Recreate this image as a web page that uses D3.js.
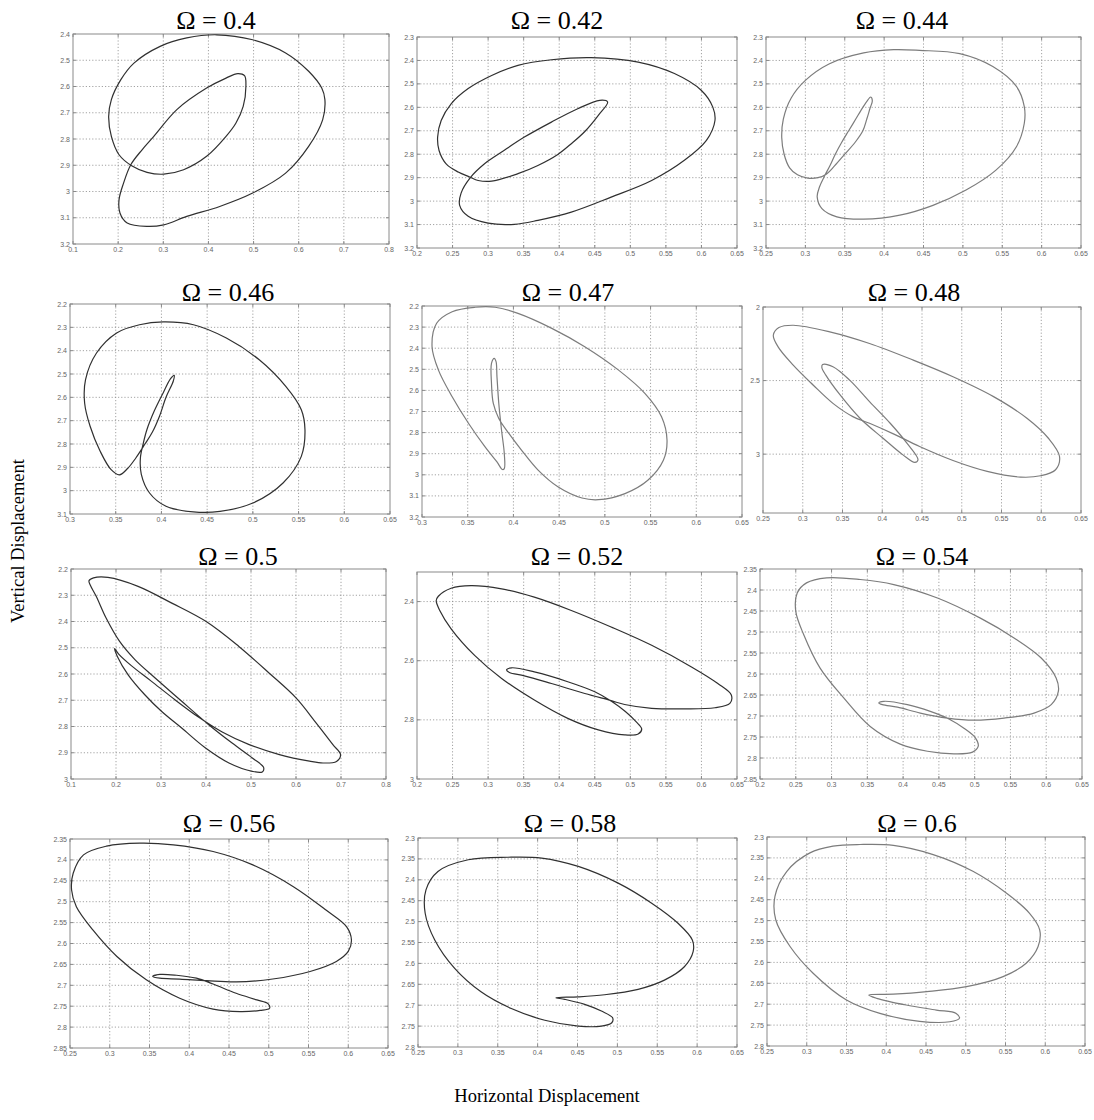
<!DOCTYPE html>
<html><head><meta charset="utf-8">
<script src="https://cdn.jsdelivr.net/npm/d3@7"></script>
<style>body{margin:0;background:#fff}</style>
</head><body>
<svg id="c" width="1094" height="1120"></svg>
<script>
// ---------- data ----------
const titles = ["Ω = 0.4","Ω = 0.42","Ω = 0.44","Ω = 0.46","Ω = 0.47","Ω = 0.48",
                "Ω = 0.5","Ω = 0.52","Ω = 0.54","Ω = 0.56","Ω = 0.58","Ω = 0.6"];
const xLabel = "Horizontal Displacement";
const yLabel = "Vertical Displacement";

const xDomains = [[0.1,0.8],[0.2,0.65],[0.25,0.65],[0.3,0.65],[0.3,0.65],[0.25,0.65],
                  [0.1,0.8],[0.2,0.65],[0.2,0.65],[0.25,0.65],[0.25,0.65],[0.25,0.65]];
const yDomains = [[2.4,3.2],[2.3,3.2],[2.3,3.2],[2.2,3.1],[2.2,3.2],[2.0,3.4],
                  [2.2,3.0],[2.3,3.0],[2.35,2.85],[2.35,2.85],[2.3,2.8],[2.3,2.8]];

const xTicksA = [0.1,0.2,0.3,0.4,0.5,0.6,0.7,0.8];
const xTicksB = [0.2,0.25,0.3,0.35,0.4,0.45,0.5,0.55,0.6,0.65];
const xTicksC = [0.25,0.3,0.35,0.4,0.45,0.5,0.55,0.6,0.65];
const xTicksD = [0.3,0.35,0.4,0.45,0.5,0.55,0.6,0.65];
const yTicks1 = [2.4,2.5,2.6,2.7,2.8,2.9,3,3.1,3.2];
const yTicks2 = [2.3,2.4,2.5,2.6,2.7,2.8,2.9,3,3.1,3.2];
const yTicks4 = [2.2,2.3,2.4,2.5,2.6,2.7,2.8,2.9,3,3.1];
const yTicks5 = [2.2,2.3,2.4,2.5,2.6,2.7,2.8,2.9,3,3.1,3.2];
const yTicks6 = [2,2.5,3];
const yTicks7 = [2.2,2.3,2.4,2.5,2.6,2.7,2.8,2.9,3];
const yTicks8 = [2.4,2.6,2.8,3];
const yTicks9 = [2.35,2.4,2.45,2.5,2.55,2.6,2.65,2.7,2.75,2.8,2.85];
const yTicks11 = [2.3,2.35,2.4,2.45,2.5,2.55,2.6,2.65,2.7,2.75,2.8];

const orbit040 = [[0.418,2.403],[0.498,2.422],[0.571,2.472],[0.622,2.542],[0.651,2.606],[0.658,2.650],[0.653,2.727],[0.622,2.828],[0.571,2.930],[0.498,3.006],[0.425,3.057],[0.352,3.095],[0.301,3.127],[0.264,3.133],[0.220,3.120],[0.204,3.082],[0.202,3.031],[0.212,2.968],[0.228,2.898],[0.253,2.841],[0.279,2.790],[0.330,2.688],[0.396,2.606],[0.439,2.568],[0.465,2.551],[0.480,2.559],[0.483,2.600],[0.477,2.676],[0.461,2.739],[0.439,2.790],[0.396,2.866],[0.345,2.917],[0.301,2.934],[0.264,2.927],[0.230,2.902],[0.202,2.860],[0.185,2.790],[0.179,2.714],[0.185,2.650],[0.206,2.574],[0.235,2.511],[0.293,2.447],[0.352,2.415]];

const orbit042 = [[0.445,2.388],[0.511,2.407],[0.562,2.456],[0.600,2.528],[0.616,2.599],[0.619,2.656],[0.607,2.741],[0.576,2.826],[0.530,2.912],[0.473,2.983],[0.417,3.047],[0.370,3.082],[0.337,3.099],[0.300,3.094],[0.272,3.065],[0.260,3.018],[0.262,2.966],[0.275,2.900],[0.295,2.841],[0.319,2.791],[0.351,2.727],[0.389,2.663],[0.426,2.606],[0.457,2.570],[0.468,2.577],[0.455,2.634],[0.436,2.703],[0.417,2.755],[0.398,2.801],[0.370,2.848],[0.342,2.883],[0.305,2.915],[0.286,2.912],[0.274,2.897],[0.258,2.876],[0.241,2.841],[0.231,2.784],[0.229,2.727],[0.234,2.656],[0.248,2.585],[0.272,2.520],[0.305,2.464],[0.342,2.421],[0.389,2.397]];

const orbit044 = [[0.445,2.357],[0.496,2.371],[0.538,2.426],[0.568,2.511],[0.578,2.597],[0.578,2.668],[0.568,2.768],[0.542,2.868],[0.504,2.953],[0.462,3.018],[0.420,3.060],[0.374,3.077],[0.340,3.067],[0.321,3.032],[0.315,2.982],[0.318,2.939],[0.324,2.895],[0.331,2.850],[0.338,2.800],[0.346,2.750],[0.355,2.700],[0.364,2.650],[0.373,2.600],[0.379,2.570],[0.383,2.556],[0.385,2.572],[0.382,2.605],[0.378,2.650],[0.373,2.700],[0.363,2.750],[0.350,2.800],[0.337,2.850],[0.327,2.884],[0.316,2.900],[0.303,2.902],[0.290,2.888],[0.280,2.858],[0.273,2.800],[0.270,2.730],[0.272,2.650],[0.282,2.560],[0.300,2.485],[0.330,2.415],[0.374,2.368],[0.412,2.354]];

const orbit046 = [[0.414,2.506],[0.413,2.530],[0.405,2.600],[0.398,2.680],[0.390,2.750],[0.382,2.800],[0.372,2.860],[0.363,2.905],[0.354,2.932],[0.345,2.910],[0.333,2.831],[0.322,2.724],[0.316,2.624],[0.317,2.524],[0.329,2.410],[0.351,2.324],[0.376,2.289],[0.402,2.277],[0.435,2.289],[0.471,2.346],[0.507,2.439],[0.536,2.553],[0.553,2.653],[0.557,2.739],[0.553,2.853],[0.533,2.967],[0.500,3.053],[0.464,3.089],[0.435,3.091],[0.405,3.067],[0.387,3.010],[0.378,2.930],[0.377,2.860],[0.380,2.800],[0.384,2.740],[0.392,2.660],[0.402,2.580],[0.410,2.520]];

const orbit047 = [[0.358,2.206],[0.333,2.227],[0.316,2.282],[0.311,2.393],[0.318,2.504],[0.333,2.630],[0.351,2.757],[0.369,2.868],[0.382,2.939],[0.388,2.975],[0.390,2.971],[0.390,2.899],[0.387,2.789],[0.384,2.662],[0.382,2.535],[0.381,2.464],[0.379,2.448],[0.376,2.472],[0.376,2.567],[0.378,2.662],[0.384,2.733],[0.395,2.804],[0.409,2.884],[0.427,2.978],[0.449,3.058],[0.475,3.110],[0.493,3.118],[0.522,3.089],[0.547,3.026],[0.564,2.931],[0.568,2.836],[0.562,2.725],[0.544,2.615],[0.515,2.504],[0.478,2.393],[0.442,2.306],[0.405,2.235],[0.380,2.206]];

const orbit048Outer = [[0.288,2.124],[0.334,2.169],[0.384,2.248],[0.439,2.361],[0.489,2.474],[0.540,2.609],[0.582,2.756],[0.609,2.892],[0.623,3.016],[0.618,3.106],[0.599,3.147],[0.574,3.156],[0.532,3.117],[0.489,3.043],[0.447,2.948],[0.414,2.862],[0.384,2.790],[0.363,2.745],[0.338,2.655],[0.313,2.530],[0.288,2.395],[0.269,2.271],[0.263,2.192],[0.270,2.140]];
const orbit048Inner = [[0.325,2.391],[0.338,2.406],[0.359,2.497],[0.384,2.643],[0.410,2.790],[0.431,2.925],[0.445,3.038],[0.441,3.056],[0.426,3.005],[0.401,2.892],[0.372,2.756],[0.347,2.598],[0.329,2.463],[0.324,2.411]];

const orbit050 = [[0.150,2.234],[0.182,2.232],[0.249,2.266],[0.324,2.330],[0.402,2.402],[0.473,2.495],[0.540,2.596],[0.600,2.691],[0.645,2.787],[0.682,2.869],[0.699,2.907],[0.690,2.933],[0.660,2.939],
  [0.630,2.932],[0.563,2.907],[0.496,2.869],[0.436,2.821],[0.384,2.765],[0.331,2.698],[0.279,2.628],[0.234,2.568],[0.206,2.524],[0.197,2.503],
  [0.203,2.533],[0.227,2.603],[0.264,2.679],[0.301,2.742],[0.346,2.806],[0.399,2.882],[0.451,2.939],[0.503,2.971],[0.525,2.973],[0.528,2.956],
  [0.503,2.920],[0.458,2.863],[0.406,2.793],[0.346,2.704],[0.287,2.615],[0.242,2.545],[0.208,2.476],[0.178,2.387],[0.156,2.304],[0.143,2.262],[0.140,2.245]];

const orbit052 = [[0.230,2.382],[0.248,2.355],[0.276,2.346],[0.319,2.357],[0.365,2.385],[0.417,2.430],[0.473,2.486],[0.530,2.548],[0.586,2.621],[0.623,2.677],[0.642,2.716],[0.640,2.744],[0.619,2.759],
  [0.576,2.763],[0.530,2.761],[0.492,2.748],[0.473,2.735],[0.436,2.711],[0.389,2.677],[0.351,2.651],[0.330,2.640],[0.326,2.631],
  [0.333,2.624],[0.365,2.638],[0.412,2.671],[0.450,2.705],[0.474,2.738],[0.493,2.772],[0.508,2.806],[0.516,2.831],[0.511,2.848],
  [0.492,2.851],[0.455,2.834],[0.412,2.795],[0.365,2.733],[0.319,2.660],[0.281,2.582],[0.248,2.492],[0.232,2.430],[0.227,2.397]];

const orbit054 = [[0.252,2.407],[0.265,2.383],[0.293,2.371],[0.340,2.375],[0.387,2.387],[0.448,2.419],[0.508,2.467],[0.555,2.514],[0.593,2.562],[0.614,2.610],[0.617,2.641],[0.607,2.673],[0.583,2.693],
  [0.541,2.705],[0.499,2.710],[0.462,2.705],[0.424,2.693],[0.392,2.679],[0.371,2.673],[0.366,2.669],
  [0.373,2.665],[0.406,2.673],[0.438,2.689],[0.464,2.707],[0.485,2.729],[0.501,2.752],[0.505,2.772],[0.497,2.786],
  [0.471,2.790],[0.434,2.784],[0.396,2.767],[0.354,2.725],[0.317,2.657],[0.284,2.586],[0.261,2.506],[0.250,2.451]];

const orbit056 = [[0.254,2.432],[0.267,2.388],[0.296,2.367],[0.338,2.360],[0.380,2.364],[0.430,2.380],[0.480,2.412],[0.531,2.464],[0.572,2.520],[0.598,2.560],[0.604,2.591],[0.600,2.619],[0.585,2.643],
  [0.552,2.667],[0.505,2.685],[0.459,2.692],[0.422,2.689],[0.388,2.685],[0.363,2.683],[0.354,2.679],
  [0.363,2.674],[0.384,2.676],[0.409,2.683],[0.430,2.697],[0.459,2.719],[0.485,2.735],[0.499,2.744],[0.501,2.755],
  [0.489,2.760],[0.464,2.763],[0.430,2.757],[0.388,2.731],[0.346,2.687],[0.309,2.631],[0.279,2.568],[0.258,2.512],[0.252,2.472]];

const orbit058 = [[0.363,2.346],[0.405,2.348],[0.451,2.368],[0.501,2.408],[0.543,2.456],[0.576,2.504],[0.594,2.544],[0.595,2.572],[0.584,2.608],[0.559,2.640],[0.526,2.662],[0.484,2.675],[0.451,2.680],[0.423,2.682],
  [0.434,2.686],[0.459,2.698],[0.480,2.714],[0.494,2.730],[0.493,2.742],[0.480,2.750],[0.451,2.750],[0.409,2.736],[0.367,2.708],[0.329,2.668],[0.296,2.612],[0.271,2.544],[0.259,2.480],[0.260,2.424],[0.275,2.380],[0.313,2.352]];

const orbit060 = [[0.367,2.318],[0.409,2.320],[0.459,2.342],[0.509,2.382],[0.551,2.434],[0.580,2.482],[0.593,2.522],[0.591,2.562],[0.576,2.602],[0.547,2.634],[0.501,2.658],[0.451,2.670],[0.409,2.676],[0.378,2.678],
  [0.388,2.686],[0.425,2.702],[0.463,2.714],[0.488,2.722],[0.492,2.734],[0.480,2.742],[0.442,2.741],[0.392,2.722],[0.350,2.690],[0.308,2.626],[0.279,2.562],[0.261,2.498],[0.260,2.442],[0.275,2.382],[0.304,2.338],[0.333,2.322]];

// ---------- layout (not data) ----------
const panels = [
  {f:[73,34,389,244],  t:[216,29],  xt:xTicksA, yt:yTicks1,  c:[orbit040], col:"#303030"},
  {f:[417,37,737,248], t:[557,29],  xt:xTicksB, yt:yTicks2,  c:[orbit042], col:"#303030"},
  {f:[766,37,1081,248],t:[902,29],  xt:xTicksC, yt:yTicks2,  c:[orbit044], col:"#7c7c7c"},
  {f:[70,304,390,514], t:[228,301], xt:xTicksD, yt:yTicks4,  c:[orbit046], col:"#303030"},
  {f:[422,306,742,517],t:[568,301], xt:xTicksD, yt:yTicks5,  c:[orbit047], col:"#7c7c7c"},
  {f:[763,307,1081,513],t:[914,301],xt:xTicksC, yt:yTicks6,  c:[orbit048Outer,orbit048Inner], col:"#7c7c7c"},
  {f:[71,569,386,779], t:[238,565], xt:xTicksA, yt:yTicks7,  c:[orbit050], col:"#303030"},
  {f:[417,572,737,779],t:[577,565], xt:xTicksB, yt:yTicks8,  c:[orbit052], col:"#303030"},
  {f:[760,569,1082,779],t:[922,565],xt:xTicksB, yt:yTicks9,  c:[orbit054], col:"#7c7c7c"},
  {f:[70,839,388,1048],t:[229,832], xt:xTicksC, yt:yTicks9,  c:[orbit056], col:"#303030"},
  {f:[418,838,737,1047],t:[570,832],xt:xTicksC, yt:yTicks11, c:[orbit058], col:"#303030"},
  {f:[767,837,1085,1046],t:[917,832],xt:xTicksC,yt:yTicks11, c:[orbit060], col:"#7c7c7c"}
];

const svg = d3.select("#c");
svg.append("rect").attr("width",1094).attr("height",1120).attr("fill","#fff");

panels.forEach((p,i)=>{
  const [x0,y0,x1,y1] = p.f;
  const xs = d3.scaleLinear().domain(xDomains[i]).range([x0,x1]);
  const ys = d3.scaleLinear().domain(yDomains[i]).range([y0,y1]); // reversed axis (ij)
  const g = svg.append("g");
  const eps = 1e-9;
  p.xt.forEach(v=>{
    if (v > xDomains[i][0]+eps && v < xDomains[i][1]-eps)
      g.append("line").attr("x1",xs(v)).attr("x2",xs(v)).attr("y1",y0).attr("y2",y1)
        .attr("stroke","#8c8c8c").attr("stroke-width",0.8).attr("stroke-dasharray","1.2,2");
  });
  p.yt.forEach(v=>{
    if (v > yDomains[i][0]+eps && v < yDomains[i][1]-eps)
      g.append("line").attr("y1",ys(v)).attr("y2",ys(v)).attr("x1",x0).attr("x2",x1)
        .attr("stroke","#8c8c8c").attr("stroke-width",0.8).attr("stroke-dasharray","1.2,2");
  });
  g.append("rect").attr("x",x0).attr("y",y0).attr("width",x1-x0).attr("height",y1-y0)
    .attr("fill","none").attr("stroke","#8a8a8a").attr("stroke-width",1);
  p.xt.forEach(v=>{
    g.append("line").attr("x1",xs(v)).attr("x2",xs(v)).attr("y1",y1).attr("y2",y1-3).attr("stroke","#8a8a8a");
    g.append("line").attr("x1",xs(v)).attr("x2",xs(v)).attr("y1",y0).attr("y2",y0+3).attr("stroke","#8a8a8a");
    g.append("text").attr("x",xs(v)).attr("y",y1+8).attr("text-anchor","middle")
      .attr("font-family","Liberation Sans, Arial, sans-serif").attr("font-size",7).attr("fill","#666")
      .text(String(v));
  });
  p.yt.forEach(v=>{
    g.append("line").attr("y1",ys(v)).attr("y2",ys(v)).attr("x1",x0).attr("x2",x0+3).attr("stroke","#8a8a8a");
    g.append("line").attr("y1",ys(v)).attr("y2",ys(v)).attr("x1",x1).attr("x2",x1-3).attr("stroke","#8a8a8a");
    g.append("text").attr("x",x0-3).attr("y",ys(v)+2.5).attr("text-anchor","end")
      .attr("font-family","Liberation Sans, Arial, sans-serif").attr("font-size",7).attr("fill","#666")
      .text(String(v));
  });
  const line = d3.line().x(d=>xs(d[0])).y(d=>ys(d[1])).curve(d3.curveCatmullRomClosed.alpha(0.5));
  p.c.forEach(arr=>{
    g.append("path").attr("d",line(arr)).attr("fill","none")
      .attr("stroke",p.col).attr("stroke-width",1.2).attr("stroke-linejoin","round");
  });
  svg.append("text").attr("x",p.t[0]).attr("y",p.t[1]).attr("text-anchor","middle")
    .attr("font-family","Liberation Serif, Times New Roman, serif").attr("font-size",26).attr("fill","#000")
    .text(titles[i]);
});

svg.append("text").attr("transform","translate(24,541) rotate(-90)").attr("text-anchor","middle")
  .attr("font-family","Liberation Serif, Times New Roman, serif").attr("font-size",18.5).attr("fill","#000")
  .text(yLabel);
svg.append("text").attr("x",547).attr("y",1102).attr("text-anchor","middle")
  .attr("font-family","Liberation Serif, Times New Roman, serif").attr("font-size",18.5).attr("fill","#000")
  .text(xLabel);
</script>
</body></html>
